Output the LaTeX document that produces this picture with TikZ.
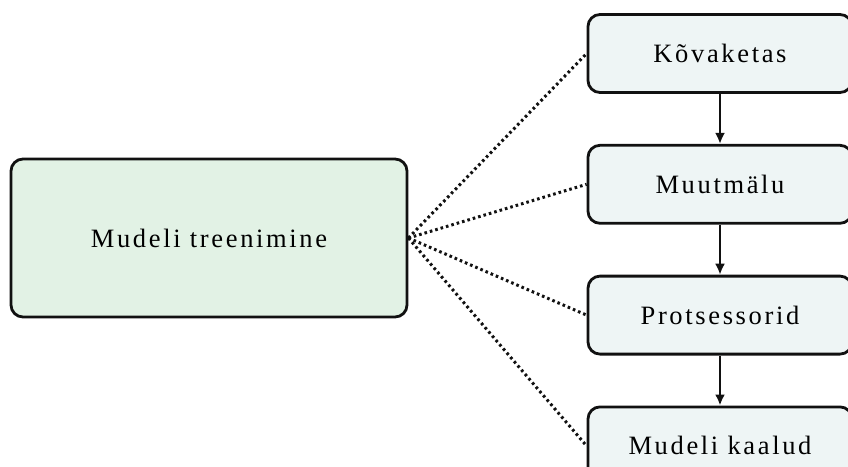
\documentclass[tikz,border=0pt]{standalone}
\usepackage{fontspec}
\setmainfont[LetterSpace=10]{Liberation Serif}
\usepackage{tikz}
\usetikzlibrary{arrows.meta,positioning}
\definecolor{leftbg}{HTML}{E2F2E5}
\definecolor{rightbg}{HTML}{EEF5F5}
\definecolor{edgec}{HTML}{111111}
\tikzset{
  ar/.style={-{Latex[length=11pt,width=10pt]},line width=2.8pt,edgec},
  dot/.style={line width=3pt,edgec,dash pattern=on 2.6pt off 3pt},
  bigbox/.style={draw=edgec,line width=2.8pt,rounded corners=12pt,fill=leftbg,minimum width=396pt,minimum height=158pt,font=\fontsize{26.5}{30}\selectfont},
  box/.style={draw=edgec,line width=2.8pt,rounded corners=12pt,fill=rightbg,minimum width=264pt,minimum height=78pt,font=\fontsize{26.5}{30}\selectfont}
}
\begin{document}
\begin{tikzpicture}[x=1pt,y=-1pt,node distance=50pt]
\useasboundingbox (0,0) rectangle (848,466);
\node[bigbox] (train) at (209,238) {Mudeli treenimine};
\node[box] (disk) at (720,53.5) {Kõvaketas};
\node[box,below=of disk] (ram) {Muutmälu};
\node[box,below=of ram] (cpu) {Protsessorid};
\node[box,below=of cpu] (weights) {Mudeli kaalud};
% hierarchy
\draw[ar] (disk) -- (ram);
\draw[ar] (ram) -- (cpu);
\draw[ar] (cpu) -- (weights);
% links from training
\foreach \n in {disk,ram,cpu,weights}
  \draw[dot] (train.east) -- (\n.west);
\end{tikzpicture}
\end{document}
